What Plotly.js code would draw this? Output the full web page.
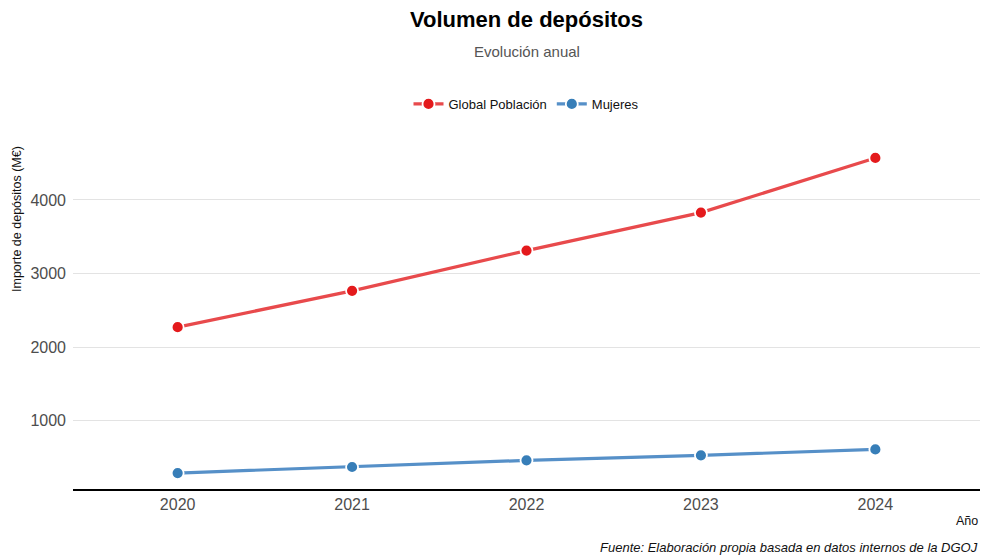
<!DOCTYPE html>
<html>
<head>
<meta charset="utf-8">
<script src="https://cdn.plot.ly/plotly-3.0.1.min.js"></script>
<style>html,body{margin:0;padding:0;background:#fff;}#chart{width:981px;height:557px;}</style>
</head>
<body>
<div id="chart"></div>
<script>
const years = [2020, 2021, 2022, 2023, 2024];
const globalPoblacion = [2272, 2765, 3312, 3828, 4570];
const mujeres = [290, 372, 462, 530, 611];
const tickYears = ["2020", "2021", "2022", "2023", "2024"];

const FONT = "Liberation Sans, Arial, sans-serif";
const PLOT_TOP = 130, PLOT_BOTTOM = 489, PLOT_H = PLOT_BOTTOM - PLOT_TOP;
function py(pix) { return 1 + (PLOT_TOP - pix) / PLOT_H; }

const traces = [
  {
    x: years, y: globalPoblacion, name: "Global Población",
    type: "scatter", mode: "lines+markers",
    line: {color: "#e84a4c", width: 3.2},
    marker: {color: "#e41a1c", size: 12, line: {color: "#ffffff", width: 1.8}}
  },
  {
    x: years, y: mujeres, name: "Mujeres",
    type: "scatter", mode: "lines+markers",
    line: {color: "#5690c8", width: 3.2},
    marker: {color: "#377eb8", size: 12, line: {color: "#ffffff", width: 1.8}}
  }
];

const layout = {
  width: 981, height: 557,
  paper_bgcolor: "#ffffff", plot_bgcolor: "#ffffff",
  font: {family: FONT, color: "#333"},
  margin: {l: 73, r: 1, t: PLOT_TOP, b: 557 - PLOT_BOTTOM},
  showlegend: true,
  legend: {orientation: "h", x: 0.5, xanchor: "center", yref: "paper", y: py(104), yanchor: "middle",
           font: {size: 13, color: "#111", family: FONT}},
  title: {text: "Volumen de depósitos", x: 0.5, xref: "paper", xanchor: "center", y: 0.965, yanchor: "middle",
          font: {size: 22, color: "#000", family: FONT, weight: "bold"}},
  xaxis: {
    range: [2019.4, 2024.6], tickvals: years, ticktext: tickYears,
    showgrid: false, zeroline: false, showline: true, linecolor: "#000", linewidth: 2,
    ticks: "", tickfont: {size: 16, color: "#4d4d4d", family: FONT}, fixedrange: true
  },
  yaxis: {
    range: [73, 4950], tickvals: [1000, 2000, 3000, 4000],
    showgrid: true, gridcolor: "#e3e3e3", gridwidth: 1, zeroline: false, showline: false,
    ticks: "", tickfont: {size: 16, color: "#4d4d4d", family: FONT}, ticklabelstandoff: 6
  },
  annotations: [
    {text: "Evolución anual", xref: "paper", x: 0.5, yref: "paper", y: py(52),
     xanchor: "center", yanchor: "middle", showarrow: false,
     font: {size: 15, color: "#555", family: FONT}},
    {text: "Importe de depósitos (M€)", xref: "paper", x: -(73 - 17) / 907, xanchor: "center",
     yref: "paper", y: py(219), yanchor: "middle", textangle: -90, showarrow: false,
     font: {size: 12.5, color: "#111", family: FONT}},
    {text: "Año", xref: "paper", x: 1, xanchor: "right", yref: "paper", y: py(521), yanchor: "middle",
     showarrow: false, font: {size: 12.5, color: "#111", family: FONT}},
    {text: "<i>Fuente: Elaboración propia basada en datos internos de la DGOJ</i>", xref: "paper", x: 1, xanchor: "right",
     yref: "paper", y: py(547), yanchor: "middle", showarrow: false, font: {size: 13, color: "#111", family: FONT}}
  ]
};

Plotly.newPlot("chart", traces, layout, {displayModeBar: false, staticPlot: true});
</script>
</body>
</html>
